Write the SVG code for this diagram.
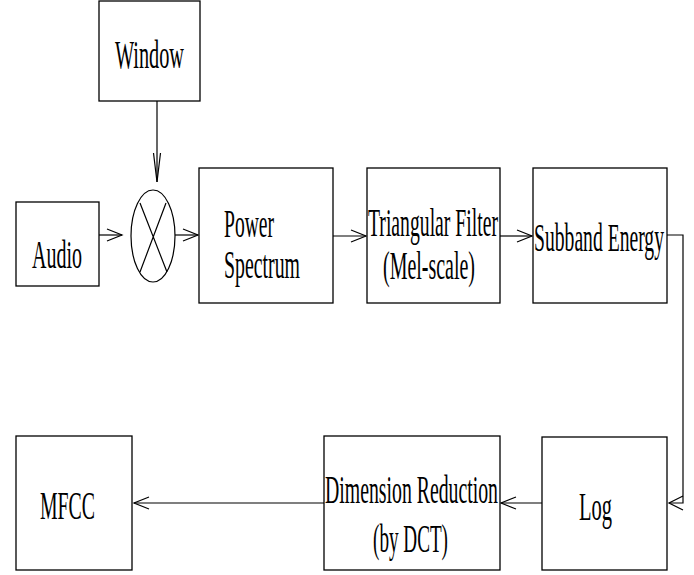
<svg xmlns="http://www.w3.org/2000/svg" width="694" height="575" viewBox="0 0 694 575">
<style>
.box{fill:#fff;stroke:#000;stroke-width:1.3}
.ln{fill:none;stroke:#000;stroke-width:1.2}
.t{font-family:"Liberation Serif","DejaVu Serif","Times New Roman",serif;font-size:40px;fill:#000}
</style>
<rect width="694" height="575" fill="#fff"/>
<g id="connectors">
<path class="ln" d="M157,101 V182"/>
<path class="ln" d="M153.5,153 L157,182 L160.5,153"/>
<path class="ln" d="M99,235 H122"/>
<path class="ln" d="M107,229 L122,235 L107,241"/>
<path class="ln" d="M175,235 H198"/>
<path class="ln" d="M183,229 L198,235 L183,241"/>
<path class="ln" d="M333,236 H366"/>
<path class="ln" d="M351,230 L366,236 L351,242"/>
<path class="ln" d="M500,236 H532"/>
<path class="ln" d="M517,230 L532,236 L517,242"/>
<path class="ln" d="M667,235 H683 V503 H669"/>
<path class="ln" d="M683,496 L669,503 L683,510"/>
<path class="ln" d="M542,503 H501"/>
<path class="ln" d="M516,497 L501,503 L516,509"/>
<path class="ln" d="M324,503 H134"/>
<path class="ln" d="M149,497 L134,503 L149,509"/>
</g>
<g id="window"><rect class="box" x="99" y="1" width="101" height="100"/><text class="t" transform="translate(115,68) scale(0.5,1)" textLength="138" lengthAdjust="spacingAndGlyphs">Window</text></g>
<g id="audio"><rect class="box" x="16" y="202" width="83" height="84"/><text class="t" transform="translate(32,268) scale(0.5,1)" textLength="100" lengthAdjust="spacingAndGlyphs">Audio</text></g>
<g id="multiplier"><ellipse class="ln" cx="153" cy="236" rx="22" ry="46"/><path class="ln" d="M140,203 L167,272 M166,203 L140,272"/></g>
<g id="power"><rect class="box" x="199" y="168" width="134" height="135"/><text class="t" transform="translate(224,237) scale(0.5,1)" textLength="100" lengthAdjust="spacingAndGlyphs">Power</text><text class="t" transform="translate(224,278) scale(0.5,1)" textLength="152" lengthAdjust="spacingAndGlyphs">Spectrum</text></g>
<g id="triangular"><rect class="box" x="367" y="168" width="133" height="135"/><text class="t" transform="translate(368,236) scale(0.5,1)" textLength="260" lengthAdjust="spacingAndGlyphs">Triangular Filter</text><text class="t" transform="translate(383,279) scale(0.5,1)" textLength="184" lengthAdjust="spacingAndGlyphs">(Mel-scale)</text></g>
<g id="subband"><rect class="box" x="533" y="168" width="134" height="135"/><text class="t" transform="translate(534,251) scale(0.5,1)" textLength="260" lengthAdjust="spacingAndGlyphs">Subband Energy</text></g>
<g id="log"><rect class="box" x="542" y="437" width="125" height="133"/><text class="t" transform="translate(579,520) scale(0.5,1)" textLength="66" lengthAdjust="spacingAndGlyphs">Log</text></g>
<g id="dimension"><rect class="box" x="324" y="436" width="176" height="134"/><text class="t" transform="translate(325,503) scale(0.5,1)" textLength="346" lengthAdjust="spacingAndGlyphs">Dimension Reduction</text><text class="t" transform="translate(373,552) scale(0.5,1)" textLength="150" lengthAdjust="spacingAndGlyphs">(by DCT)</text></g>
<g id="mfcc"><rect class="box" x="16" y="436" width="116" height="134"/><text class="t" transform="translate(40,519) scale(0.5,1)" textLength="110" lengthAdjust="spacingAndGlyphs">MFCC</text></g>
</svg>
